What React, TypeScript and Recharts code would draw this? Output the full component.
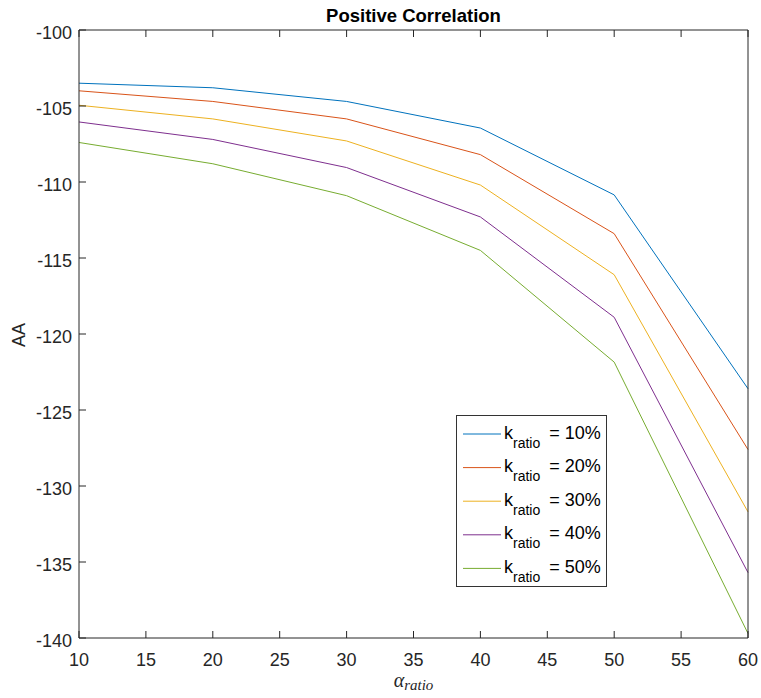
import { LineChart, Line, XAxis, YAxis, Legend } from 'recharts';

const alphaRatio = [10, 20, 30, 40, 50, 60];
const k10 = [-103.5, -103.8, -104.7, -106.45, -110.85, -123.6];
const k20 = [-104.0, -104.7, -105.85, -108.2, -113.4, -127.6];
const k30 = [-104.95, -105.85, -107.3, -110.2, -116.1, -131.7];
const k40 = [-106.05, -107.2, -109.05, -112.3, -118.9, -135.7];
const k50 = [-107.4, -108.8, -110.9, -114.5, -121.85, -139.7];
const xTicks = [10, 15, 20, 25, 30, 35, 40, 45, 50, 55, 60];
const yTicks = [-140, -135, -130, -125, -120, -115, -110, -105, -100];

const series = [
  { key: 'k10', label: '10%', color: '#0072BD', values: k10 },
  { key: 'k20', label: '20%', color: '#D95319', values: k20 },
  { key: 'k30', label: '30%', color: '#EDB120', values: k30 },
  { key: 'k40', label: '40%', color: '#7E2F8E', values: k40 },
  { key: 'k50', label: '50%', color: '#77AC30', values: k50 },
];

const data = alphaRatio.map((x, i) => {
  const row: Record<string, number> = { x };
  series.forEach(s => { row[s.key] = s.values[i]; });
  return row;
});

const AXIS = '#262626';
const FONT = '"Liberation Sans", Arial, Helvetica, sans-serif';

const BottomTick = (p: any) => (
  <g>
    <line x1={p.x} x2={p.x} y1={p.y} y2={p.y - 7} stroke={AXIS} />
    <text x={p.x} y={p.y + 28} textAnchor="middle" fontSize={18} fill={AXIS} fontFamily={FONT}>
      {p.payload.value}
    </text>
  </g>
);
// top / right axes just mirror the tick marks, like a matlab box
const TopTick = (p: any) => (
  <line x1={p.x} x2={p.x} y1={p.y} y2={p.y + 7} stroke={AXIS} />
);
const LeftTick = (p: any) => (
  <g>
    <line x1={p.x} x2={p.x + 7} y1={p.y} y2={p.y} stroke={AXIS} />
    <text x={p.x - 7} y={p.y + 9} textAnchor="end" fontSize={18} fill={AXIS} fontFamily={FONT}>
      {p.payload.value}
    </text>
  </g>
);
const RightTick = (p: any) => (
  <line x1={p.x} x2={p.x - 7} y1={p.y} y2={p.y} stroke={AXIS} />
);

const LegendBox = () => (
  <svg width={151} height={172} style={{ display: 'block' }}>
    <rect x={0.5} y={0.5} width={150} height={171} fill="#fff" stroke="#333" />
    {series.map((s, i) => {
      const y = 19 + i * 33.6;
      return (
        <g key={s.key}>
          <line x1={7} x2={45} y1={y} y2={y} stroke={s.color} />
          <text x={48} y={y + 4.5} fontSize={18} fill="#000" fontFamily={FONT}>
            <tspan>k</tspan>
            <tspan dy={9} fontSize={14}>ratio</tspan>
            <tspan dy={-9} dx={4}>{' = ' + s.label}</tspan>
          </text>
        </g>
      );
    })}
  </svg>
);

export default function App() {
  return (
    <div style={{ position: 'absolute', left: 0, top: 0, width: 761, height: 698, background: '#fff' }}>
      <LineChart width={761} height={698} data={data} margin={{ top: 29, right: 12, bottom: 0, left: 0 }}>
        <XAxis dataKey="x" type="number" domain={[10, 60]} ticks={xTicks} height={60}
          axisLine={{ stroke: AXIS }} tickLine={false} tickSize={0} tickMargin={0} tick={BottomTick} />
        <XAxis xAxisId="top" orientation="top" dataKey="x" type="number" domain={[10, 60]} ticks={xTicks} height={1}
          axisLine={{ stroke: AXIS }} tickLine={false} tickSize={0} tickMargin={0} tick={TopTick} />
        <YAxis type="number" domain={[-140, -100]} ticks={yTicks} width={79}
          axisLine={{ stroke: AXIS }} tickLine={false} tickSize={0} tickMargin={0} tick={LeftTick} />
        <YAxis yAxisId="right" orientation="right" type="number" domain={[-140, -100]} ticks={yTicks} width={1}
          axisLine={{ stroke: AXIS }} tickLine={false} tickSize={0} tickMargin={0} tick={RightTick} />
        {series.map(s => (
          <Line key={s.key} dataKey={s.key} type="linear" stroke={s.color} strokeWidth={1}
            dot={false} activeDot={false} isAnimationActive={false} />
        ))}
        <Legend layout="vertical" align="center" verticalAlign="middle" content={LegendBox}
          wrapperStyle={{ left: 456, top: 415, width: 151, height: 172 }} />
      </LineChart>
      <svg width={761} height={698} style={{ position: 'absolute', left: 0, top: 0, pointerEvents: 'none' }}>
        <text x={413.5} y={22} textAnchor="middle" fontSize={18.5} fontWeight="bold" fill="#000" fontFamily={FONT}>
          Positive Correlation
        </text>
        <text x={25} y={335} textAnchor="middle" fontSize={18} fill={AXIS} fontFamily={FONT}
          transform="rotate(-90 25 335)">AA</text>
        <text x={413.5} y={687} textAnchor="middle" fill={AXIS} fontFamily='"Liberation Serif", "DejaVu Serif", serif' fontStyle="italic">
          <tspan fontSize={20}>α</tspan>
          <tspan fontSize={15} dy={3}>ratio</tspan>
        </text>
      </svg>
    </div>
  );
}
